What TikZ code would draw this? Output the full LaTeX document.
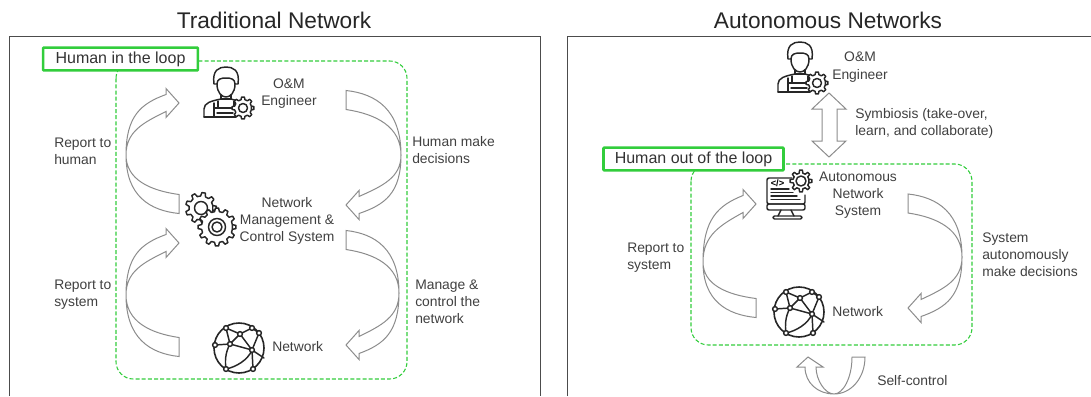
\documentclass[tikz,border=0pt]{standalone}
\usepackage{fontspec}
\setmainfont{Liberation Sans}
\usetikzlibrary{calc}
\definecolor{loopgreen}{RGB}{50,205,60}
\definecolor{textgray}{RGB}{64,64,64}
\tikzstyle{ptitle}  = [font=\fontsize{17}{20}\selectfont, text=black!85]
\tikzstyle{txt}     = [font=\fontsize{10.4}{12.9}\selectfont, text=textgray, align=left, anchor=west, inner sep=0pt]
\tikzstyle{ctxt}    = [txt, align=center, anchor=center]
\tikzstyle{tagbox}  = [font=\fontsize{12}{14}\selectfont, text=black!80, draw=loopgreen, line width=1.9pt, fill=white, inner sep=0pt, rounded corners=0.5pt]
\tikzstyle{loopbox} = [draw=loopgreen, line width=0.8pt, dash pattern=on 3pt off 1.6pt, rounded corners=13pt]
\tikzstyle{panel}   = [draw=black!70, line width=0.9pt]
\tikzstyle{blockarrow} = [draw=black!45, line width=0.75pt, line join=miter]
\tikzstyle{icon}    = [draw=black!85, line width=1.1pt, line join=round, line cap=round]

% at, teeth, root radius, tip radius
\newcommand{\gearshape}[4]{
    \pgfmathsetmacro{\gstep}{360/#2}
    \draw [icon, fill=white, shift={#1}] ({-0.3*\gstep}:#3)
        \foreach \i [evaluate=\i as \a using \i*\gstep] in {0,...,#2} {
            -- ({\a-0.3*\gstep}:#3) -- ({\a-0.16*\gstep}:#4) -- ({\a+0.16*\gstep}:#4) -- ({\a+0.3*\gstep}:#3)
        } -- cycle;
}

% tail, bend, head, x sign, y sign
\newcommand{\bendarrow}[5]{
    \coordinate (to) at ($(#1)+(0,#5*9.5)$);
    \coordinate (ti) at ($(#1)+(0,-#5*9.5)$);
    \coordinate (so) at ($(#3)+(-#4*13,-#5*8.5)$);
    \coordinate (si) at ($(#3)+(-#4*13,#5*8.5)$);
    \coordinate (wo) at ($(#3)+(-#4*13,-#5*14.5)$);
    \coordinate (wi) at ($(#3)+(-#4*13,#5*14.5)$);
    \coordinate (cto) at ($(to)!0.55!(#2 |- to)$);
    \coordinate (cti) at ($(ti)!0.55!(#2 |- ti)$);
    \coordinate (cso) at ($(so)!0.62!(#2 |- so)$);
    \coordinate (csi) at ($(si)!0.55!(#2 |- si)$);
    \draw [blockarrow] (to)
        .. controls ($(cto)!0.05!(cto |- #2)$) and ($(#2)!0.7!(#2 |- to)$) .. (#2)
        .. controls ($(#2)!0.65!(#2 |- so)$) and ($(cso)!0.15!(cso |- #2)$) .. (so)
        -- (wo) -- (#3) -- (wi) -- (si)
        .. controls ($(csi)!0.25!(csi |- #2)$) and ($(#2)!0.55!(#2 |- si)$) .. (#2)
        .. controls ($(#2)!0.62!(#2 |- ti)$) and ($(cti)!0.1!(cti |- #2)$) .. (ti)
        -- cycle;
}

\tikzset{
    engineer/.pic={
        \draw [icon] (-12,-9) .. controls (-14,-23) and (-7,-26) .. (0,-26)
            .. controls (7,-26) and (14,-23) .. (12,-9) -- (9,-9)
            .. controls (9,-14) and (5,-15) .. (0,-15) .. controls (-5,-15) and (-9,-14) .. (-9,-9) -- cycle;
        \draw [icon] (-9,-9) .. controls (-9,0) and (-4,4) .. (0,4) .. controls (4,4) and (9,0) .. (9,-9);
        \draw [icon] (-5,2) -- (-5,6) -- (5,6) -- (5,2);
        \draw [icon] (-22,24) -- (-22,16) .. controls (-22,10) and (-15,8) .. (-5,6);
        \draw [icon] (5,6) -- (12,8);
        \draw [icon] (-22,24) -- (10,24);
        \draw [icon] (-12,10) -- (-12,24) (-12,15) -- (8,15) (-8,8) -- (-8,15) (8,8) -- (8,15) (-9,20) -- (7,20);
        \gearshape{(17,15)}{8}{8.5}{11}
        \draw [icon] (17,15) circle (4.5);
    },
    globe/.pic={
        \draw [icon, line width=1.2pt] (0,0) circle (25);
        \draw [icon] (-13,-20) -- (1,-14) -- (13,-20) (1,-14) -- (-9,-4) -- (-24,-3)
            (1,-14) -- (13,2) -- (-9,-4) (13,2) -- (20,-15) (13,2) -- (25,10) (13,2) -- (14,21)
            (-13,-20) -- (-9,-4) (20,-15) -- (13,-20);
        \draw [icon] (-9,-4) .. controls (-14,5) and (-14,14) .. (-13,21);
        \draw [icon] (13,2) .. controls (9,12) and (-3,19) .. (-13,21);
        \foreach \p in {(-13,-20),(13,-20),(1,-14),(20,-15),(-24,-3),(-9,-4),(13,2),(-13,21),(14,21)}
            \draw [icon, fill=white] \p circle (2.4);
    }
}

\begin{document}
\begin{tikzpicture}[x=0.75pt, y=-0.75pt]
    \useasboundingbox (0,0) rectangle (1091,396);

    % panels
    \draw [panel] (9.5,396) -- (9.5,36.5) -- (540.5,36.5) -- (540.5,396);
    \draw [panel] (567.5,396) -- (567.5,36.5) -- (1091,36.5);
    \node (ttrad) [ptitle] at (274,20) {Traditional Network};
    \node (tauto) [ptitle] at (828,20) {Autonomous Networks};

    % left panel
    \draw [loopbox] (116,61) rectangle (407,379);
    \node (inloop) [tagbox, minimum width=116pt, minimum height=17pt] at (120.5,59) {Human in the loop};

    \pic (eng) at (226,93) {engineer};
    \node (engt) [ctxt] at (289,93.5) {O\&M\\Engineer};

    \gearshape{(201,208)}{9}{12}{15.5}
    \draw [icon] (201,208) circle (6.5);
    \gearshape{(217,227)}{12}{15.5}{19}
    \draw [icon] (217,227) circle (8.5);
    \draw [icon] (217,227) circle (5);
    \node (nmc) [ctxt] at (287,221) {Network\\Management \&\\Control System};

    \pic (net) at (239,348) {globe};
    \node (nett) [txt] at (272,347) {Network};

    \coordinate (a tail) at (179,204);
    \coordinate (a bend) at (126,155);
    \coordinate (a head) at (179,103);
    \coordinate (b tail) at (346,100);
    \coordinate (b bend) at (401,155);
    \coordinate (b head) at (346,205);
    \coordinate (c tail) at (179,347);
    \coordinate (c bend) at (126,295);
    \coordinate (c head) at (179,243);
    \coordinate (d tail) at (346,240);
    \coordinate (d bend) at (399,293);
    \coordinate (d head) at (346,345);
    \bendarrow{a tail}{a bend}{a head}{1}{1}
    \bendarrow{b tail}{b bend}{b head}{-1}{-1}
    \bendarrow{c tail}{c bend}{c head}{1}{1}
    \bendarrow{d tail}{d bend}{d head}{-1}{-1}

    \node (rh) [txt] at (54,151) {Report to\\human};
    \node (hd) [txt] at (412,150) {Human make\\decisions};
    \node (rs) [txt] at (54,295) {Report to\\system};
    \node (mc) [txt] at (415,302) {Manage \&\\control the\\network};

    % right panel
    \pic (enga) at (800,68) {engineer};
    \node (engat) [ctxt] at (860,67) {O\&M\\Engineer};

    \coordinate (sym top) at (829,93);
    \coordinate (sym bot) at (829,157);
    \draw [blockarrow] (sym top) -- ($(sym top)+(17,16)$) -- ($(sym top)+(8,16)$) -- ($(sym bot)+(8,-16)$)
        -- ($(sym bot)+(17,-16)$) -- (sym bot) -- ($(sym bot)+(-17,-16)$) -- ($(sym bot)+(-7,-16)$)
        -- ($(sym top)+(-7,16)$) -- ($(sym top)+(-17,16)$) -- cycle;
    \node (symt) [txt] at (855,123.5) {Symbiosis (take-over,\\learn, and collaborate)};

    \draw [loopbox] (691,164) rectangle (972,345);
    \node (outloop) [tagbox, minimum width=135pt, minimum height=17pt] at (693.5,159) {Human out of the loop};

    % monitor
    \draw [icon, rounded corners=1.5pt] (805,195) -- (805,204) -- (767,204) -- (767,178) -- (792,178);
    \draw [icon, rounded corners=1.5pt] (767,204) rectangle (805,210);
    \draw [icon] (781,210) -- (778,216) (791,210) -- (794,216);
    \draw [icon, rounded corners=1pt] (773,216) rectangle (802,219);
    \draw [icon] (771,189) -- (789,189) (771,192.5) -- (793,192.5) (771,196) -- (797,196) (771,199.5) -- (800,199.5);
    \node (code) [font=\fontsize{7}{8}\bfseries\selectfont, inner sep=0pt] at (777.5,183) {</>};
    \gearshape{(801,181)}{8}{8}{11}
    \draw [icon] (801,181) circle (5);
    \node (anst) [ctxt] at (858,195) {Autonomous\\Network\\System};

    \pic (neta) at (799,312) {globe};
    \node (netat) [txt] at (832,312) {Network};

    \coordinate (e tail) at (756,308);
    \coordinate (e bend) at (703,262);
    \coordinate (e head) at (756,204);
    \coordinate (f tail) at (908,203.5);
    \coordinate (f bend) at (962,257);
    \coordinate (f head) at (908,308);
    \bendarrow{e tail}{e bend}{e head}{1}{1}
    \bendarrow{f tail}{f bend}{f head}{-1}{-1}

    \node (rsa) [txt] at (627,258) {Report to\\system};
    \node (sad) [txt] at (982,255) {System\\autonomously\\make decisions};

    % self-control
    \coordinate (self tail) at (858.5,357);
    \coordinate (self bend) at (834,394);
    \coordinate (self head) at (808,357);
    \draw [blockarrow] ($(self tail)+(6.5,0)$) .. controls (865,378) and (851,394) .. (self bend)
        .. controls (818,394) and (805,383) .. ($(self head)+(-3,10)$)
        -- ($(self head)+(-11,10)$) -- (self head) -- ($(self head)+(15,10)$) -- ($(self head)+(8,10)$)
        .. controls (816,380) and (825,394) .. (self bend)
        .. controls (843,394) and (852,378) .. ($(self tail)+(-6.5,0)$) -- cycle;
    \node (selft) [txt] at (877,381) {Self-control};
\end{tikzpicture}
\end{document}
